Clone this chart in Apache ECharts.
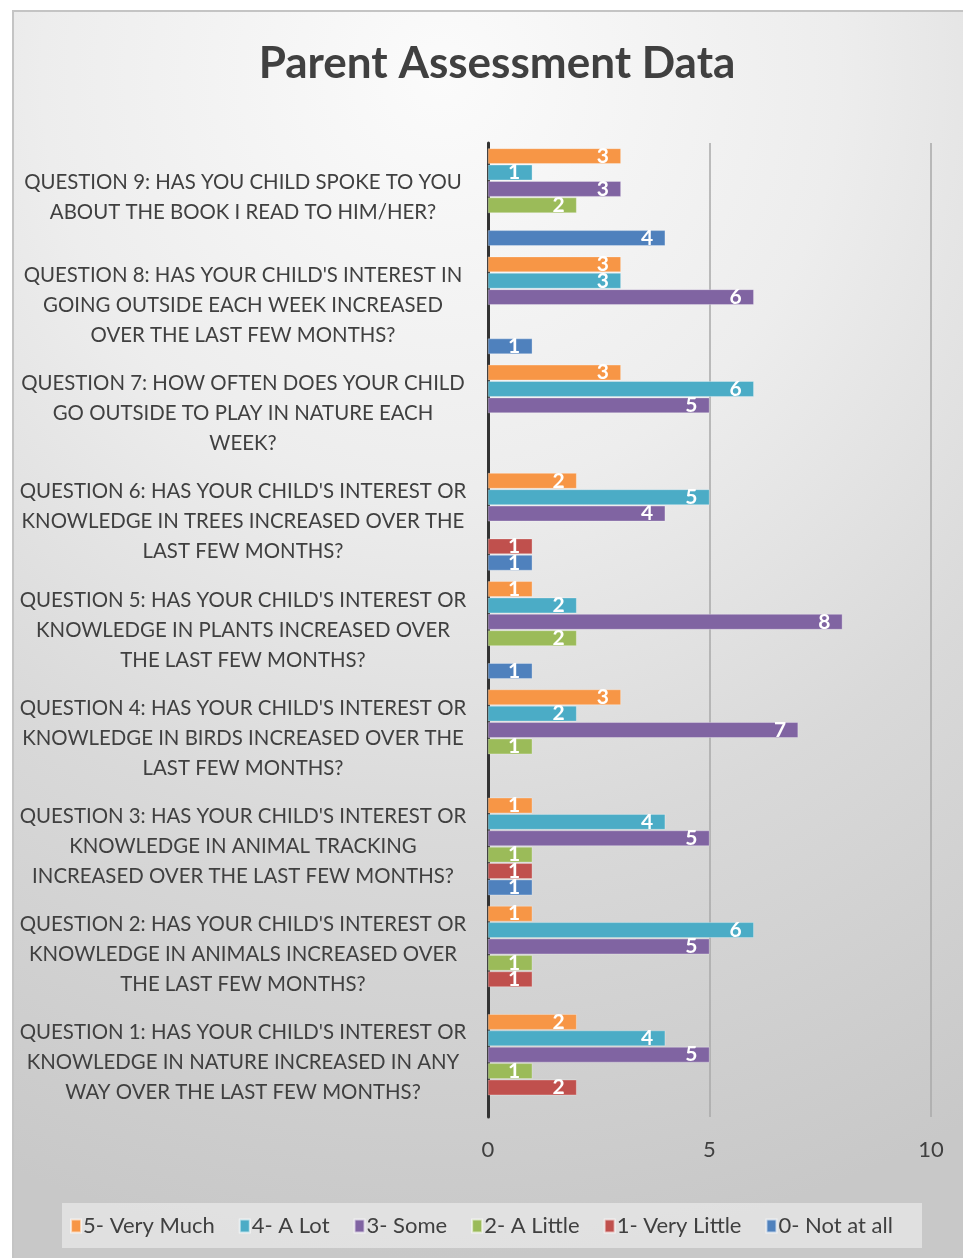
<!DOCTYPE html>
<html>
<head>
<meta charset="utf-8">
<script src="https://cdn.jsdelivr.net/npm/echarts@6/dist/echarts.min.js"></script>
<style>
html,body{margin:0;padding:0;background:#fff;}
#bg{position:absolute;left:12px;top:10px;width:951px;height:1248px;box-sizing:border-box;border-top:2px solid #c4c4c4;border-left:2px solid #c4c4c4;
background:radial-gradient(ellipse 120% 95% at 45% 5%, #fbfbfb 0%, #ededed 35%, #d9d9d9 65%, #c8c8c8 100%);}
#chart{position:absolute;left:0;top:0;width:963px;height:1258px;}
</style>
</head>
<body>
<div id="bg"></div>
<div id="chart"></div>
<script>
const categories = [
  "QUESTION 1: HAS YOUR CHILD'S INTEREST OR\nKNOWLEDGE IN NATURE INCREASED IN ANY\nWAY OVER THE LAST FEW MONTHS?",
  "QUESTION 2: HAS YOUR CHILD'S INTEREST OR\nKNOWLEDGE IN ANIMALS INCREASED OVER\nTHE LAST FEW MONTHS?",
  "QUESTION 3: HAS YOUR CHILD'S INTEREST OR\nKNOWLEDGE IN ANIMAL TRACKING\nINCREASED OVER THE LAST FEW MONTHS?",
  "QUESTION 4: HAS YOUR CHILD'S INTEREST OR\nKNOWLEDGE IN BIRDS INCREASED OVER THE\nLAST FEW MONTHS?",
  "QUESTION 5: HAS YOUR CHILD'S INTEREST OR\nKNOWLEDGE IN PLANTS INCREASED OVER\nTHE LAST FEW MONTHS?",
  "QUESTION 6: HAS YOUR CHILD'S INTEREST OR\nKNOWLEDGE IN TREES INCREASED OVER THE\nLAST FEW MONTHS?",
  "QUESTION 7: HOW OFTEN DOES YOUR CHILD\nGO OUTSIDE TO PLAY IN NATURE EACH\nWEEK?",
  "QUESTION 8: HAS YOUR CHILD'S INTEREST IN\nGOING OUTSIDE EACH WEEK INCREASED\nOVER THE LAST FEW MONTHS?",
  "QUESTION 9: HAS YOU CHILD SPOKE TO YOU\nABOUT THE BOOK I READ TO HIM/HER?"
];
const seriesNames = ["5- Very Much", "4- A Lot", "3- Some", "2- A Little", "1- Very Little", "0- Not at all"];
const veryMuch   = [2, 1, 1, 3, 1, 2, 3, 3, 3];
const aLot       = [4, 6, 4, 2, 2, 5, 6, 3, 1];
const some       = [5, 5, 5, 7, 8, 4, 5, 6, 3];
const aLittle    = [1, 1, 1, 1, 2, 0, 0, 0, 2];
const veryLittle = [2, 1, 1, 0, 0, 1, 0, 0, 0];
const notAtAll   = [0, 0, 1, 0, 1, 1, 0, 1, 4];
const xTicks = [0, 5, 10];
const colors = ["#F79646", "#4BACC6", "#8064A2", "#9BBB59", "#C0504D", "#4F81BD"];

const FONT = "Lato, 'Open Sans', sans-serif";
const allData = [veryMuch, aLot, some, aLittle, veryLittle, notAtAll];

const chart = echarts.init(document.getElementById('chart'), null, {renderer: 'canvas'});
const series = seriesNames.map((name, i) => ({
  name: name,
  type: 'bar',
  data: allData[i].map(v => v === 0 ? null : v),
  barGap: '6%',
  barCategoryGap: '10%',
  itemStyle: {color: colors[i], borderColor: 'rgba(255,255,255,0.6)', borderWidth: 0.5},
  label: {
    show: true, position: 'insideRight', distance: 12,
    color: '#fff', fontWeight: 'bold', fontSize: 21, fontFamily: FONT,
    formatter: p => p.value ? String(p.value) : ''
  }
}));

chart.setOption({
  backgroundColor: 'transparent',
  animation: false,
  title: {
    text: 'Parent Assessment Data',
    left: 492, top: 37, textAlign: 'center',
    textStyle: {fontSize: 44, fontWeight: 'bold', color: '#404040', fontFamily: FONT}
  },
  graphic: [{
    type: 'rect', shape: {x: 62, y: 1203, width: 860, height: 45},
    style: {fill: 'rgba(232,232,232,0.75)'}, z: -1
  }],
  legend: {
    data: seriesNames,
    left: 'center', top: 1210,
    itemWidth: 10, itemHeight: 13, itemGap: 24,
    icon: 'rect',
    textStyle: {fontSize: 22, color: '#404040', fontFamily: FONT, padding: [0,0,0,-3]}
  },
  grid: {left: 488, right: 32, top: 143, bottom: 141, containLabel: false},
  xAxis: {
    type: 'value', min: 0, max: 10, interval: 5,
    axisLine: {show: false}, axisTick: {show: false},
    splitLine: {show: true, lineStyle: {color: '#a8a8a8', width: 1.5}},
    axisLabel: {
      fontSize: 22, color: '#404040', fontFamily: FONT, margin: 22,
      formatter: v => xTicks.includes(v) ? String(v) : ''
    }
  },
  yAxis: {
    type: 'category', data: categories,
    axisLine: {show: true, lineStyle: {color: '#333', width: 3}},
    axisTick: {show: false},
    axisLabel: {
      align: 'center', margin: 245, lineHeight: 30,
      fontSize: 20.4, color: '#404040', fontFamily: FONT
    }
  },
  series: series
});
</script>
</body>
</html>
